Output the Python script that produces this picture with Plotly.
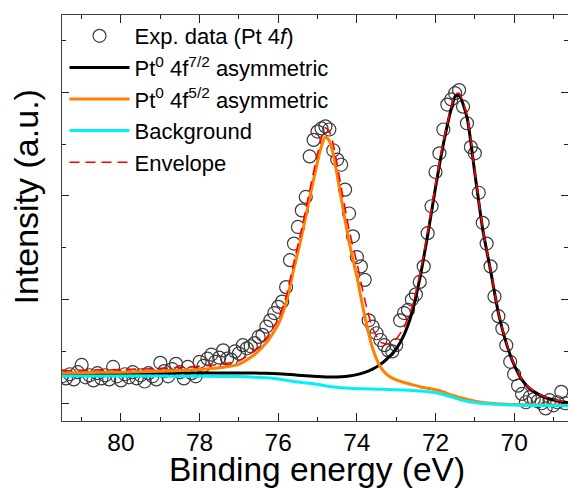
import plotly.graph_objects as go

# Pt 4f XPS scan: binding energy (eV) and measured intensity (a.u.)
E_SCAN = [81.5, 81.4, 81.3, 81.2, 81.1, 81.0, 80.9, 80.8, 80.7, 80.6,
          80.5, 80.4, 80.3, 80.2, 80.1, 80.0, 79.9, 79.8, 79.7, 79.6,
          79.5, 79.4, 79.3, 79.2, 79.1, 79.0, 78.9, 78.8, 78.7, 78.6,
          78.5, 78.4, 78.3, 78.2, 78.1, 78.0, 77.9, 77.8, 77.7, 77.6,
          77.5, 77.4, 77.3, 77.2, 77.1, 77.0, 76.9, 76.8, 76.7, 76.6,
          76.5, 76.4, 76.3, 76.2, 76.1, 76.0, 75.9, 75.8, 75.7, 75.6,
          75.5, 75.4, 75.3, 75.2, 75.1, 75.0, 74.9, 74.8, 74.7, 74.6,
          74.5, 74.4, 74.3, 74.2, 74.1, 74.0, 73.9, 73.8, 73.7, 73.6,
          73.5, 73.4, 73.3, 73.2, 73.1, 73.0, 72.9, 72.8, 72.7, 72.6,
          72.5, 72.4, 72.3, 72.2, 72.1, 72.0, 71.9, 71.8, 71.7, 71.6,
          71.5, 71.4, 71.3, 71.2, 71.1, 71.0, 70.9, 70.8, 70.7, 70.6,
          70.5, 70.4, 70.3, 70.2, 70.1, 70.0, 69.9, 69.8, 69.7, 69.6,
          69.5, 69.4, 69.3, 69.2, 69.1, 69.0, 68.9, 68.8, 68.7]

I_EXP = [0.26, 0.24, 0.28, 0.23, 0.30, 0.37, 0.25, 0.27, 0.22, 0.29,
         0.24, 0.27, 0.23, 0.35, 0.26, 0.22, 0.28, 0.25, 0.30, 0.24,
         0.27, 0.21, 0.29, 0.26, 0.23, 0.39, 0.31, 0.26, 0.33, 0.38,
         0.30, 0.24, 0.35, 0.29, 0.26, 0.40, 0.36, 0.43, 0.47, 0.40,
         0.44, 0.51, 0.43, 0.42, 0.50, 0.48, 0.56, 0.53, 0.55, 0.58,
         0.64, 0.66, 0.74, 0.80, 0.87, 0.93, 0.98, 1.12, 1.38, 1.54,
         1.70, 1.86, 1.99, 2.38, 2.54, 2.62, 2.65, 2.67, 2.64, 2.44,
         2.35, 2.30, 2.06, 1.83, 1.61, 1.41, 1.32, 1.19, 0.80, 0.74,
         0.675, 0.61, 0.56, 0.51, 0.50, 0.56, 0.80, 0.87, 0.90, 1.00,
         1.05, 1.17, 1.32, 1.64, 1.90, 2.23, 2.41, 2.64, 2.88, 2.93,
         2.99, 3.02, 2.86, 2.70, 2.47, 2.41, 2.03, 1.74, 1.54, 1.32,
         1.03, 0.84, 0.72, 0.56, 0.40, 0.28, 0.17, 0.09, 0.01, 0.06,
         0.04, 0.02, 0.00, -0.05, 0.03, -0.02, 0.01, 0.11, 0.00]

# Fit components evaluated on a finer grid around the peaks
E_FIT = [81.5, 81.0, 80.5, 80.0, 79.5, 79.0, 78.5, 78.0, 77.5, 77.0,
         76.6, 76.3, 76.0, 75.8, 75.6, 75.4, 75.2, 75.0, 74.9, 74.8,
         74.7, 74.6, 74.4, 74.2, 74.0, 73.8, 73.6, 73.4, 73.2, 73.0,
         72.8, 72.6, 72.4, 72.2, 72.0, 71.8, 71.6, 71.5, 71.4, 71.2,
         71.0, 70.8, 70.6, 70.4, 70.2, 70.0, 69.8, 69.6, 69.4, 69.2,
         69.0, 68.8, 68.63]

PT_7_2 = [0.285, 0.286, 0.287, 0.288, 0.289, 0.290, 0.291, 0.292, 0.292, 0.292,
          0.291, 0.289, 0.285, 0.280, 0.274, 0.268, 0.263, 0.258, 0.256, 0.254,
          0.253, 0.253, 0.256, 0.263, 0.276, 0.298, 0.330, 0.375, 0.440, 0.525,
          0.66, 0.87, 1.20, 1.62, 2.08, 2.50, 2.84, 2.96, 2.97, 2.76,
          2.22, 1.68, 1.28, 0.87, 0.58, 0.37, 0.225, 0.14, 0.090, 0.055,
          0.032, 0.015, 0.006]

PT_5_2 = [0.292, 0.295, 0.298, 0.300, 0.303, 0.308, 0.315, 0.325, 0.342, 0.375,
          0.47, 0.585, 0.76, 0.97, 1.30, 1.62, 1.98, 2.33, 2.48, 2.57,
          2.53, 2.40, 1.98, 1.56, 1.22, 0.84, 0.53, 0.35, 0.265, 0.225,
          0.200, 0.180, 0.160, 0.145, 0.130, 0.110, 0.080, 0.070, 0.058, 0.038,
          0.020, 0.008, 0.000, -0.006, -0.010, -0.012, -0.014, -0.015, -0.016, -0.017,
          -0.017, -0.018, -0.018]

BACKGROUND = [0.263, 0.263, 0.263, 0.263, 0.262, 0.262, 0.261, 0.260, 0.259, 0.257,
              0.252, 0.245, 0.233, 0.222, 0.210, 0.200, 0.192, 0.182, 0.176, 0.168,
              0.162, 0.157, 0.150, 0.145, 0.141, 0.139, 0.137, 0.135, 0.133, 0.130,
              0.127, 0.124, 0.119, 0.112, 0.102, 0.085, 0.062, 0.050, 0.038, 0.020,
              0.007, -0.002, -0.008, -0.012, -0.015, -0.017, -0.019, -0.020, -0.021, -0.022,
              -0.022, -0.023, -0.023]

ENVELOPE = [0.314, 0.318, 0.322, 0.325, 0.330, 0.336, 0.345, 0.357, 0.375, 0.410,
            0.509, 0.629, 0.812, 1.028, 1.364, 1.688, 2.051, 2.406, 2.560, 2.656,
            2.621, 2.496, 2.086, 1.678, 1.355, 0.999, 0.723, 0.590, 0.572, 0.620,
            0.733, 0.926, 1.241, 1.653, 2.108, 2.525, 2.858, 2.980, 2.990, 2.778,
            2.233, 1.690, 1.288, 0.876, 0.585, 0.375, 0.230, 0.145, 0.095, 0.060,
            0.037, 0.020, 0.011]

FONT = "Liberation Sans, Arial, sans-serif"

fig = go.Figure()

fig.add_trace(go.Scatter(
    x=E_SCAN, y=I_EXP, mode="markers", name="Exp. data (Pt 4<i>f</i>)",
    marker=dict(symbol="circle-open", size=13, color="#3a3a3a",
                line=dict(width=1.2, color="#3a3a3a")),
))
fig.add_trace(go.Scatter(
    x=E_FIT, y=PT_7_2, mode="lines", name="Pt<sup>0</sup> 4f<sup>7/2</sup> asymmetric",
    line=dict(color="#000000", width=3, shape="spline", smoothing=0.6),
))
fig.add_trace(go.Scatter(
    x=E_FIT, y=PT_5_2, mode="lines", name="Pt<sup>0</sup> 4f<sup>5/2</sup> asymmetric",
    line=dict(color="#FF8000", width=3, shape="spline", smoothing=0.6),
))
fig.add_trace(go.Scatter(
    x=E_FIT, y=BACKGROUND, mode="lines", name="Background",
    line=dict(color="#00F0F8", width=3, shape="spline", smoothing=0.6),
))
fig.add_trace(go.Scatter(
    x=E_FIT, y=ENVELOPE, mode="lines", name="Envelope",
    line=dict(color="#FF0000", width=1.6, dash="10px,6px", shape="spline", smoothing=0.6),
))

axis_common = dict(
    showgrid=False, zeroline=False, showline=True, linecolor="#404040", linewidth=1,
    mirror="ticks", ticks="inside", tickcolor="#202020", tickwidth=1,
)

fig.update_layout(
    width=568, height=488,
    margin=dict(l=62, r=0, t=15, b=67),
    paper_bgcolor="white", plot_bgcolor="white",
    font=dict(family=FONT, color="black"),
    showlegend=True,
    legend=dict(
        x=0.005, y=1.0, xanchor="left", yanchor="top",
        bgcolor="rgba(0,0,0,0)", borderwidth=0,
        font=dict(family=FONT, size=22, color="black"),
        itemwidth=60, tracegroupgap=0,
    ),
    xaxis=dict(
        range=[81.5, 68.63], tickmode="linear", tick0=70, dtick=2, ticklen=8,
        ticklabelstandoff=0,
        tickfont=dict(family=FONT, size=24.5, color="black"),
        minor=dict(dtick=1, tick0=70, ticks="inside", ticklen=4, tickcolor="#202020", showgrid=False),
        **axis_common,
    ),
    yaxis=dict(
        range=[-0.171, 3.744], tickmode="linear", tick0=0, dtick=1, ticklen=7,
        showticklabels=False,
        minor=dict(dtick=0.5, tick0=0, ticks="inside", ticklen=4, tickcolor="#202020", showgrid=False),
        **axis_common,
    ),
    annotations=[
        dict(text="Binding energy (eV)", x=0.5047, y=-0.119, xref="paper", yref="paper",
             xanchor="center", yanchor="middle", showarrow=False,
             font=dict(family=FONT, size=33.5, color="black")),
        dict(text="Intensity (a.u.)", x=-0.0711, y=0.5505, xref="paper", yref="paper",
             xanchor="center", yanchor="middle", showarrow=False, textangle=-90,
             font=dict(family=FONT, size=34, color="black")),
    ],
)

fig.write_html("out.html", config={"displayModeBar": False})
